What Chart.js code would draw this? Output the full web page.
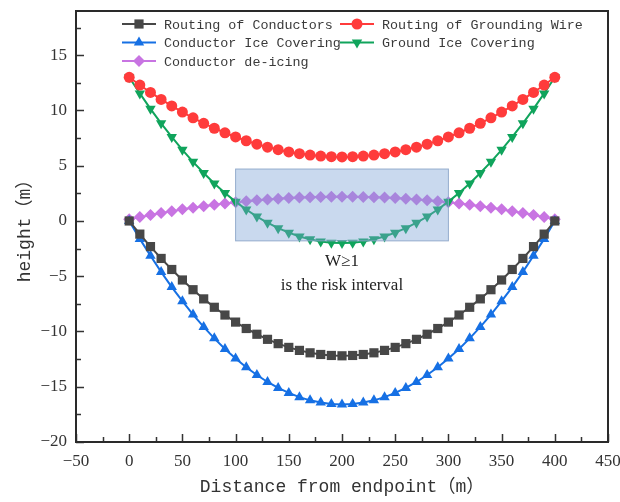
<!DOCTYPE html>
<html>
<head>
<meta charset="utf-8">
<script src="https://cdn.jsdelivr.net/npm/chart.js"></script>
<style>
  body { margin: 0; background: #fff; }
</style>
</head>
<body>
<canvas id="sagChart" width="620" height="502"></canvas>
<script>
// distance along the span (m)
const distance = [0, 10, 20, 30, 40, 50, 60, 70, 80, 90, 100, 110, 120, 130, 140, 150, 160, 170, 180, 190, 200,
  210, 220, 230, 240, 250, 260, 270, 280, 290, 300, 310, 320, 330, 340, 350, 360, 370, 380, 390, 400];

const conductorRoute = [0, -1.19, -2.32, -3.39, -4.39, -5.34, -6.22, -7.05, -7.81, -8.51, -9.15, -9.73, -10.25, -10.71, -11.10, -11.44, -11.71, -11.93, -12.08, -12.17, -12.2,
  -12.17, -12.08, -11.93, -11.71, -11.44, -11.10, -10.71, -10.25, -9.73, -9.15, -8.51, -7.81, -7.05, -6.22, -5.34, -4.39, -3.39, -2.32, -1.19, 0];

const groundWireRoute = [13.0, 12.30, 11.63, 11.00, 10.41, 9.85, 9.33, 8.84, 8.39, 7.98, 7.60, 7.26, 6.95, 6.68, 6.45, 6.25, 6.09, 5.96, 5.87, 5.82, 5.8,
  5.82, 5.87, 5.96, 6.09, 6.25, 6.45, 6.68, 6.95, 7.26, 7.60, 7.98, 8.39, 8.84, 9.33, 9.85, 10.41, 11.00, 11.63, 12.30, 13.0];

const conductorIce = [0, -1.62, -3.15, -4.61, -5.98, -7.26, -8.47, -9.59, -10.62, -11.58, -12.45, -13.24, -13.94, -14.57, -15.11, -15.56, -15.94, -16.23, -16.43, -16.56, -16.6,
  -16.56, -16.43, -16.23, -15.94, -15.56, -15.11, -14.57, -13.94, -13.24, -12.45, -11.58, -10.62, -9.59, -8.47, -7.26, -5.98, -4.61, -3.15, -1.62, 0];

const groundIce = [13.0, 11.54, 10.15, 8.84, 7.60, 6.44, 5.35, 4.34, 3.40, 2.54, 1.75, 1.04, 0.40, -0.16, -0.65, -1.06, -1.40, -1.66, -1.85, -1.96, -2.0,
  -1.96, -1.85, -1.66, -1.40, -1.06, -0.65, -0.16, 0.40, 1.04, 1.75, 2.54, 3.40, 4.34, 5.35, 6.44, 7.60, 8.84, 10.15, 11.54, 13.0];

const conductorDeicing = [0.15, 0.35, 0.54, 0.72, 0.89, 1.05, 1.20, 1.33, 1.46, 1.58, 1.69, 1.78, 1.87, 1.95, 2.02, 2.07, 2.12, 2.15, 2.18, 2.19, 2.2,
  2.19, 2.18, 2.15, 2.12, 2.07, 2.02, 1.95, 1.87, 1.78, 1.69, 1.58, 1.46, 1.33, 1.20, 1.05, 0.89, 0.72, 0.54, 0.35, 0.15];

const xTicks = [-50, 0, 50, 100, 150, 200, 250, 300, 350, 400, 450];
const yTicks = [-20, -15, -10, -5, 0, 5, 10, 15];

// highlighted risk interval
const riskX = [100, 300];
const riskY = [-1.8, 4.7];
const riskText = ['W\u22651', 'is the risk interval'];
const riskTextY = [-3.7, -5.8];

const pts = ys => distance.map((x, i) => ({ x: x, y: ys[i] }));

function series(label, ys, color, style, size, rot) {
  return {
    label: label,
    data: pts(ys),
    borderColor: color,
    backgroundColor: color,
    borderWidth: 2,
    pointStyle: style,
    pointRotation: rot || 0,
    pointRadius: size,
    pointBorderWidth: 0,
    tension: 0
  };
}

const datasets = [
  series('Routing of Conductors', conductorRoute, '#474747', 'rect', 6.5),
  series('Routing of Grounding Wire', groundWireRoute, '#ff3b3b', 'circle', 5.5),
  series('Conductor Ice Covering', conductorIce, '#1670e4', 'triangle', 6),
  series('Ground Ice Covering', groundIce, '#10a45c', 'triangle', 6, 180),
  series('Conductor de-icing', conductorDeicing, '#c874e2', 'rectRot', 6)
];

const minus = v => String(v).replace('-', '\u2212');

// frame, inward ticks, risk box and legend
const decor = {
  id: 'decor',
  afterDatasetsDraw(chart) {
    const { ctx, chartArea: a, scales: { x, y } } = chart;
    ctx.save();
    // risk box
    const bx = x.getPixelForValue(riskX[0]), bx2 = x.getPixelForValue(riskX[1]);
    const by = y.getPixelForValue(riskY[1]), by2 = y.getPixelForValue(riskY[0]);
    ctx.fillStyle = 'rgba(120,160,212,0.4)';
    ctx.fillRect(bx, by, bx2 - bx, by2 - by);
    ctx.strokeStyle = 'rgba(140,165,200,0.9)';
    ctx.lineWidth = 1;
    ctx.strokeRect(bx, by, bx2 - bx, by2 - by);
    ctx.fillStyle = '#222';
    ctx.font = '17px "Liberation Serif"';
    ctx.textAlign = 'center';
    ctx.textBaseline = 'middle';
    riskText.forEach((t, i) => ctx.fillText(t, x.getPixelForValue(200), y.getPixelForValue(riskTextY[i])));

    // ticks
    ctx.strokeStyle = '#333';
    ctx.lineWidth = 1.5;
    ctx.beginPath();
    for (let v = -50; v <= 450; v += 25) {
      const px = Math.round(x.getPixelForValue(v)) + 0.5;
      const len = v % 50 === 0 ? 8 : 5;
      ctx.moveTo(px, a.bottom);
      ctx.lineTo(px, a.bottom - len);
    }
    for (let v = -20; v <= 17.5; v += 2.5) {
      const py = Math.round(y.getPixelForValue(v)) + 0.5;
      const len = v % 5 === 0 ? 8 : 5;
      ctx.moveTo(a.left, py);
      ctx.lineTo(a.left + len, py);
    }
    ctx.stroke();
    // frame
    ctx.lineWidth = 2;
    ctx.strokeStyle = '#2a2a2a';
    ctx.strokeRect(a.left, a.top, a.right - a.left, a.bottom - a.top);

    // legend
    const cols = [122, 340], rows = [24, 42.5, 61];
    ctx.font = '13.4px "Liberation Mono"';
    ctx.textAlign = 'left';
    ctx.textBaseline = 'middle';
    chart.data.datasets.forEach((ds, i) => {
      const lx = cols[i % 2], ly = rows[Math.floor(i / 2)];
      ctx.strokeStyle = ds.borderColor;
      ctx.fillStyle = ds.borderColor;
      ctx.lineWidth = 2;
      ctx.beginPath();
      ctx.moveTo(lx, ly);
      ctx.lineTo(lx + 34, ly);
      ctx.stroke();
      Chart.helpers.drawPoint(ctx, { pointStyle: ds.pointStyle, rotation: ds.pointRotation, radius: ds.pointRadius, borderWidth: 0 }, lx + 17, ly);
      ctx.fillStyle = '#3a3a3a';
      ctx.fillText(ds.label, lx + 42, ly + 1);
    });
    ctx.restore();
  }
};

new Chart(document.getElementById('sagChart'), {
  type: 'line',
  data: { datasets: datasets },
  options: {
    responsive: false,
    animation: false,
    devicePixelRatio: 1,
    layout: { padding: { top: 11, right: 12, left: 0, bottom: 0 } },
    plugins: { legend: { display: false }, tooltip: { enabled: false } },
    scales: {
      x: {
        type: 'linear',
        min: -50,
        max: 450,
        afterFit: s => { s.height = 60; s.paddingLeft = 0; s.paddingRight = 0; },
        afterBuildTicks: s => { s.ticks = xTicks.map(v => ({ value: v })); },
        grid: { display: false, drawTicks: false },
        border: { display: false },
        ticks: {
          padding: 9,
          color: '#333',
          font: { family: 'Liberation Serif', size: 17 },
          callback: v => minus(v)
        },
        title: {
          display: true,
          text: 'Distance from endpoint\uff08m\uff09',
          color: '#333',
          font: { family: '"Liberation Mono", "Noto Sans CJK SC"', size: 18 },
          padding: { top: 0, bottom: 4 }
        }
      },
      y: {
        min: -20,
        max: 19,
        afterFit: s => { s.width = 76; s.paddingTop = 0; s.paddingBottom = 0; },
        afterBuildTicks: s => { s.ticks = yTicks.map(v => ({ value: v })); },
        grid: { display: false, drawTicks: false },
        border: { display: false },
        ticks: {
          padding: 9,
          color: '#333',
          font: { family: 'Liberation Serif', size: 17 },
          callback: v => minus(v)
        },
        title: {
          display: true,
          text: 'height\uff08m\uff09',
          color: '#333',
          font: { family: '"Liberation Mono", "Noto Sans CJK SC"', size: 18 },
          padding: { top: 14, bottom: 0 }
        }
      }
    }
  },
  plugins: [decor]
});
</script>
</body>
</html>
